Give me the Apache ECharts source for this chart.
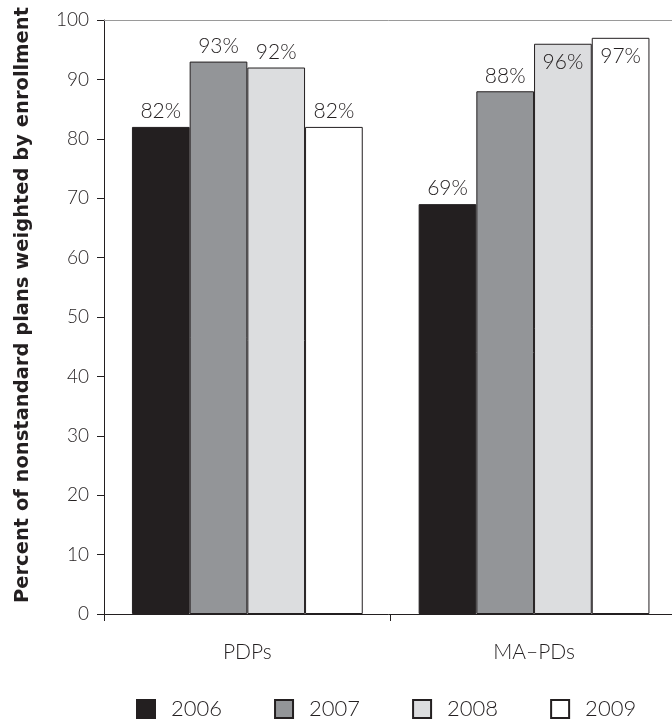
<!DOCTYPE html>
<html>
<head>
<meta charset="utf-8">
<script src="https://cdn.jsdelivr.net/npm/echarts@6/dist/echarts.min.js"></script>
<style>
  html, body { margin: 0; padding: 0; background: #fff; }
  #chart { width: 672px; height: 719px; }
</style>
</head>
<body>
<div id="chart"></div>
<script>
// Plan types on the x axis
const categories = ['PDPs', 'MA\u2013PDs'];
// Share of nonstandard plans, percent, by year
const years = ['2006', '2007', '2008', '2009'];
const values2006 = [82, 69];
const values2007 = [93, 88];
const values2008 = [92, 96];
const values2009 = [82, 97];
const yTicks = [0, 10, 20, 30, 40, 50, 60, 70, 80, 90, 100];

const seriesValues = [values2006, values2007, values2008, values2009];
const fills = ['#231f20', '#939598', '#dcdddf', '#ffffff'];
const ink = '#231f20';
const font = 'Lato';

// Labels that would run past the top of the axis sit inside the bar instead
function barData(vals) {
  return vals.map(v => v >= 95
    ? { value: v, label: { position: 'insideTop', distance: 8 } }
    : v);
}

const series = years.map((y, i) => ({
  name: y,
  type: 'bar',
  barWidth: 57.7,
  barGap: '0%',
  data: barData(seriesValues[i]),
  itemStyle: { color: fills[i], borderColor: ink, borderWidth: 1 },
  label: {
    show: true,
    position: 'top',
    distance: 5,
    formatter: '{c}%',
    color: ink,
    fontFamily: font,
    fontWeight: 300,
    fontSize: 21
  }
}));

const chart = echarts.init(document.getElementById('chart'), null, { renderer: 'canvas' });
chart.setOption({
  animation: false,
  backgroundColor: '#fff',
  grid: { left: 104, top: 20, width: 573.4, height: 594, outerBoundsMode: 'none', containLabel: false },
  legend: {
    left: 131,
    top: 693,
    itemWidth: 18,
    itemHeight: 18,
    itemGap: 52,
    icon: 'rect',
    data: years,
    textStyle: {
      color: ink,
      fontFamily: font,
      fontWeight: 300,
      fontSize: 22,
      padding: [0, 0, 0, 11]
    }
  },
  xAxis: [{
    type: 'category',
    data: categories,
    position: 'bottom',
    axisLine: { lineStyle: { color: ink, width: 1 } },
    axisTick: { show: true, length: 7, lineStyle: { color: ink } },
    axisLabel: {
      color: ink, fontFamily: font, fontWeight: 300, fontSize: 21, margin: 28
    }
  }, {
    // thin rule along the top of the plot
    type: 'category',
    data: categories,
    position: 'top',
    axisLine: { lineStyle: { color: '#9a9a9a', width: 1 } },
    axisTick: { show: false },
    axisLabel: { show: false }
  }],
  yAxis: {
    type: 'value',
    min: yTicks[0],
    max: yTicks[yTicks.length - 1],
    interval: 10,
    name: 'Percent of nonstandard plans weighted by enrollment',
    nameLocation: 'middle',
    nameGap: 71,
    nameTextStyle: {
      color: ink,
      fontFamily: 'DejaVu Sans',
      fontWeight: 'bold',
      fontSize: 19.5,
      padding: [0, 0, 0, 24]
    },
    axisLine: { show: true, lineStyle: { color: ink, width: 1 } },
    axisTick: { show: true, length: 7, lineStyle: { color: ink } },
    splitLine: { show: false },
    axisLabel: {
      color: ink, fontFamily: font, fontWeight: 300, fontSize: 19, margin: 15
    }
  },
  series: series
});
</script>
</body>
</html>
